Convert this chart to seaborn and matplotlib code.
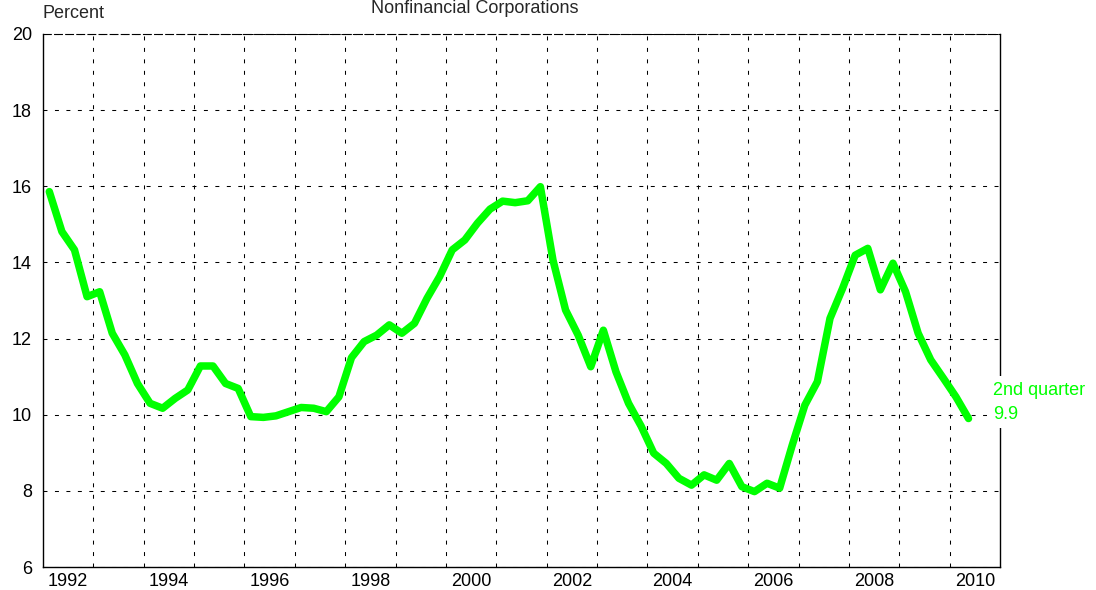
import numpy as np
import pandas as pd
import seaborn as sns
import matplotlib.pyplot as plt

# quarterly values, 1992Q1 .. 2010Q2 (percent)
years = list(range(1992, 2011))
values = [
    15.86, 14.81, 14.33, 13.10,   # 1992
    13.23, 12.14, 11.57, 10.82,   # 1993
    10.30, 10.17, 10.43, 10.65,   # 1994
    11.28, 11.28, 10.82, 10.69,   # 1995
    9.95, 9.93, 9.97, 10.08,      # 1996
    10.19, 10.17, 10.08, 10.47,   # 1997
    11.50, 11.92, 12.09, 12.36,   # 1998
    12.14, 12.40, 13.06, 13.63,   # 1999
    14.33, 14.59, 15.03, 15.40,   # 2000
    15.61, 15.57, 15.62, 15.99,   # 2001
    14.06, 12.75, 12.09, 11.26,   # 2002
    12.22, 11.13, 10.30, 9.70,    # 2003
    8.99, 8.72, 8.33, 8.15,       # 2004
    8.42, 8.28, 8.72, 8.11,       # 2005
    7.98, 8.20, 8.07, 9.20,       # 2006
    10.25, 10.87, 12.53, 13.32,   # 2007
    14.19, 14.37, 13.28, 13.98,   # 2008
    13.23, 12.14, 11.44, 10.96,   # 2009
    10.47, 9.9,                   # 2010
]
yticks = [6, 8, 10, 12, 14, 16, 18, 20]
title_text = "Nonfinancial Corporations"
unit_text = "Percent"
last_label = "2nd quarter\n9.9"

# mid-quarter positions
quarter_pos = [1992 + (i // 4) + ((i % 4) + 0.5) / 4 for i in range(len(values))]
df = pd.DataFrame({"date": quarter_pos, "value": values})

sns.set_style("white")
plt.rcParams['font.family'] = ['Liberation Sans', 'DejaVu Sans']

fig = plt.figure(figsize=(10.96, 5.90), dpi=100)
ax = fig.add_axes([43/1096, 1 - 567/590, (1000-43)/1096, (567-34)/590])

sns.lineplot(x="date", y="value", data=df, color="#00ff00", linewidth=5.4, ax=ax,
             zorder=4)

ax.set_xlim(1992, 2011)
ax.set_ylim(6, 20)
ax.set_xticks([y + 0.5 for y in years])
ax.set_xticklabels([str(y) if y % 2 == 0 else "" for y in years])
ax.set_xticks(list(range(1993, 2011)), minor=True)
ax.set_yticks(yticks)
ax.set_yticklabels([str(v) for v in yticks])
ax.tick_params(axis="both", which="both", length=0, labelsize=13, colors="black")
ax.tick_params(axis="y", pad=8)
ax.tick_params(axis="x", pad=4)
ax.set_xlabel("")
ax.set_ylabel("")

# dashed black grid: year boundaries and every 2 percent
dash = (0, (3.8, 7.2))
ax.grid(False)
ax.grid(True, axis="x", which="minor", color="black", linewidth=0.75, linestyle=dash)
ax.grid(True, axis="y", which="major", color="black", linewidth=0.75, linestyle=dash)
ax.set_axisbelow(True)

for side in ["left", "right", "bottom"]:
    ax.spines[side].set_color("black")
    ax.spines[side].set_linewidth(1.0)
ax.spines["top"].set_color("black")
ax.spines["top"].set_linewidth(0.8)
ax.spines["top"].set_linestyle((0, (7, 3)))

ax.text(2010.86, 10.33, last_label, color="#00ff00", fontsize=13, ha="left", va="center",
        linespacing=1.55, clip_on=False, zorder=5,
        bbox=dict(facecolor="white", edgecolor="none", pad=4))

fig.text(42/1096, 1 - 18/590, unit_text, fontsize=13, ha="left", va="baseline")
fig.text(475/1096, 1 - 13/590, title_text, fontsize=13, ha="center", va="baseline")

fig.savefig("out.png", dpi=100)
